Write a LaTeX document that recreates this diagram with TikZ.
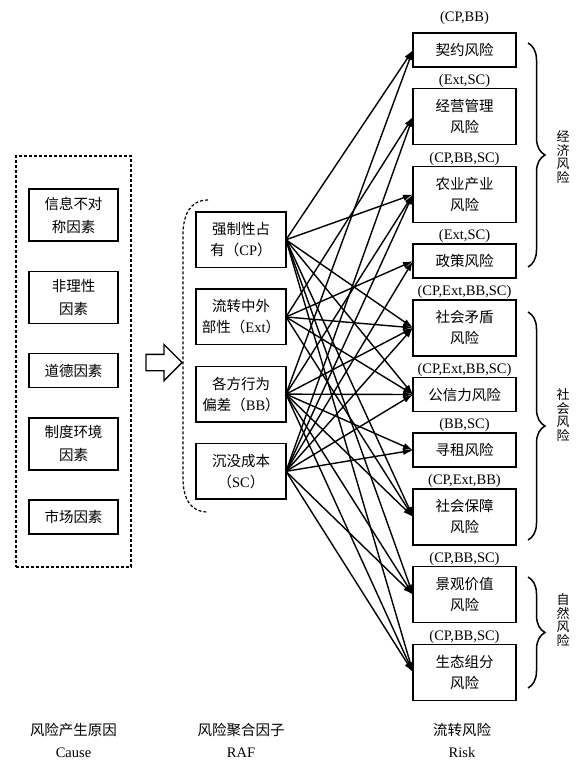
\documentclass[tikz,border=0pt]{standalone}
\usepackage{fontspec}
\setmainfont{Liberation Serif}
\newfontfamily\zhfont{Noto Sans CJK SC}
\usetikzlibrary{arrows.meta,positioning,shapes.arrows,fit,decorations.pathreplacing}

\begin{document}
\begin{tikzpicture}[
    x=1pt, y=-1pt,
    >={Latex[length=10pt,width=6.5pt]},
    node distance=21.7pt,
    box/.style={draw, line width=1.5pt, outer sep=0pt, align=center, inner xsep=3pt, inner ysep=0pt, font=\zhfont\fontsize{14.5}{21}\selectfont},
    causebox/.style={box, text width=83pt, font=\zhfont\fontsize{14.5}{23}\selectfont},
    rafbox/.style={box, text width=84pt, minimum height=55.5pt},
    riskbox/.style={box, text width=97pt},
    oneline/.style={minimum height=34pt},
    twoline/.style={minimum height=56pt},
    tag/.style={inner sep=0pt, font=\fontsize{14.5}{16}\selectfont},
    caption/.style={align=center, font=\fontsize{14.5}{22}\selectfont},
    side/.style={align=center, inner sep=0pt, font=\zhfont\fontsize{13}{13.5}\selectfont},
    brace/.style={decorate, decoration={brace, amplitude=17pt}, line width=1.5pt},
    line/.style={->, line width=1.4pt}
]
\useasboundingbox (0,0) rectangle (576,766);

% Causes of risk, in a dashed group.
\node[causebox, minimum height=52pt] (asym) at (73.5,215) {信息不对\\称因素};
\node[causebox, minimum height=52pt, below=30.25pt of asym] (irr) {非理性\\因素};
\node[causebox, oneline, below=30.25pt of irr] (moral) {道德因素};
\node[causebox, minimum height=52pt, below=30.25pt of moral] (inst) {制度环境\\因素};
\node[causebox, oneline, below=30.25pt of inst] (market) {市场因素};
\node[draw, dashed, dash pattern=on 3pt off 2pt, line width=1.2pt, fit=(asym)(market), inner xsep=13pt, inner ysep=33pt] (causes) {};

% Hollow arrow between the groups.
\node[draw, single arrow, line width=1.3pt, minimum height=36pt, single arrow head extend=10pt, inner ysep=7.5pt, inner xsep=0pt] (flow) at (160,362.5) {};

% Risk aggregation factors.
\node[rafbox] (cp) at (241,239.75) {强制性占\\有（\textrm{CP}）};
\node[rafbox, below=of cp] (ext) {流转中外\\部性（\textrm{Ext}）};
\node[rafbox, below=of ext] (bb) {各方行为\\偏差（\textrm{BB}）};
\node[rafbox, below=of bb] (sc) {沉没成本\\（\textrm{SC}）};
\draw[dashed, dash pattern=on 3pt off 2pt, line width=1.2pt] (208,200) .. controls (190,200) and (183,215) .. (183,235) -- (183,478) .. controls (183,498) and (190,512) .. (208,512);

% Transfer risks with their factors.
\node[riskbox, oneline] (contract) at (464.5,50) {契约风险};
\node[riskbox, twoline, below=of contract] (manage) {经营管理\\风险};
\node[riskbox, twoline, below=of manage] (agri) {农业产业\\风险};
\node[riskbox, oneline, below=of agri] (policy) {政策风险};
\node[riskbox, twoline, below=of policy] (conflict) {社会矛盾\\风险};
\node[riskbox, oneline, below=of conflict] (trust) {公信力风险};
\node[riskbox, oneline, below=of trust] (rent) {寻租风险};
\node[riskbox, twoline, below=of rent] (security) {社会保障\\风险};
\node[riskbox, twoline, below=of security] (landscape) {景观价值\\风险};
\node[riskbox, twoline, below=of landscape] (eco) {生态组分\\风险};

\node[tag, above=8pt of contract] (tcontract) {(CP,BB)};
\node[tag, above=1pt of manage] (tmanage) {(Ext,SC)};
\node[tag, above=1pt of agri] (tagri) {(CP,BB,SC)};
\node[tag, above=1pt of policy] (tpolicy) {(Ext,SC)};
\node[tag, above=1pt of conflict] (tconflict) {(CP,Ext,BB,SC)};
\node[tag, above=1pt of trust] (ttrust) {(CP,Ext,BB,SC)};
\node[tag, above=1pt of rent] (trent) {(BB,SC)};
\node[tag, above=1pt of security] (tsecurity) {(CP,Ext,BB)};
\node[tag, above=1pt of landscape] (tlandscape) {(CP,BB,SC)};
\node[tag, above=1pt of eco] (teco) {(CP,BB,SC)};

% Risk classes.
\draw[brace] (528,43) -- (528,267);
\draw[brace] (528,312) -- (528,540);
\draw[brace] (528,577) -- (528,688);
\node[side] (econ) at (563,157) {经\\济\\风\\险};
\node[side] (social) at (563,415) {社\\会\\风\\险};
\node[side] (nature) at (563,620) {自\\然\\风\\险};

% Factor-to-risk arrows.
\foreach \s/\t in {cp/contract, bb/contract, ext/manage, sc/manage,
    cp/agri, bb/agri, sc/agri, ext/policy, sc/policy,
    cp/conflict, ext/conflict, bb/conflict, sc/conflict,
    cp/trust, ext/trust, bb/trust, sc/trust, bb/rent, sc/rent,
    cp/security, ext/security, bb/security,
    cp/landscape, bb/landscape, sc/landscape, cp/eco, bb/eco, sc/eco}
    \draw[line] (\s.east) -- (\t.west);

% Column captions.
\node[caption] (capcause) at (causes.center |- 0,740) {{\zhfont 风险产生原因}\\Cause};
\node[caption] (capraf) at (cp.center |- 0,740) {{\zhfont 风险聚合因子}\\RAF};
\node[caption] (caprisk) at (462,740) {{\zhfont 流转风险}\\Risk};

\end{tikzpicture}
\end{document}
